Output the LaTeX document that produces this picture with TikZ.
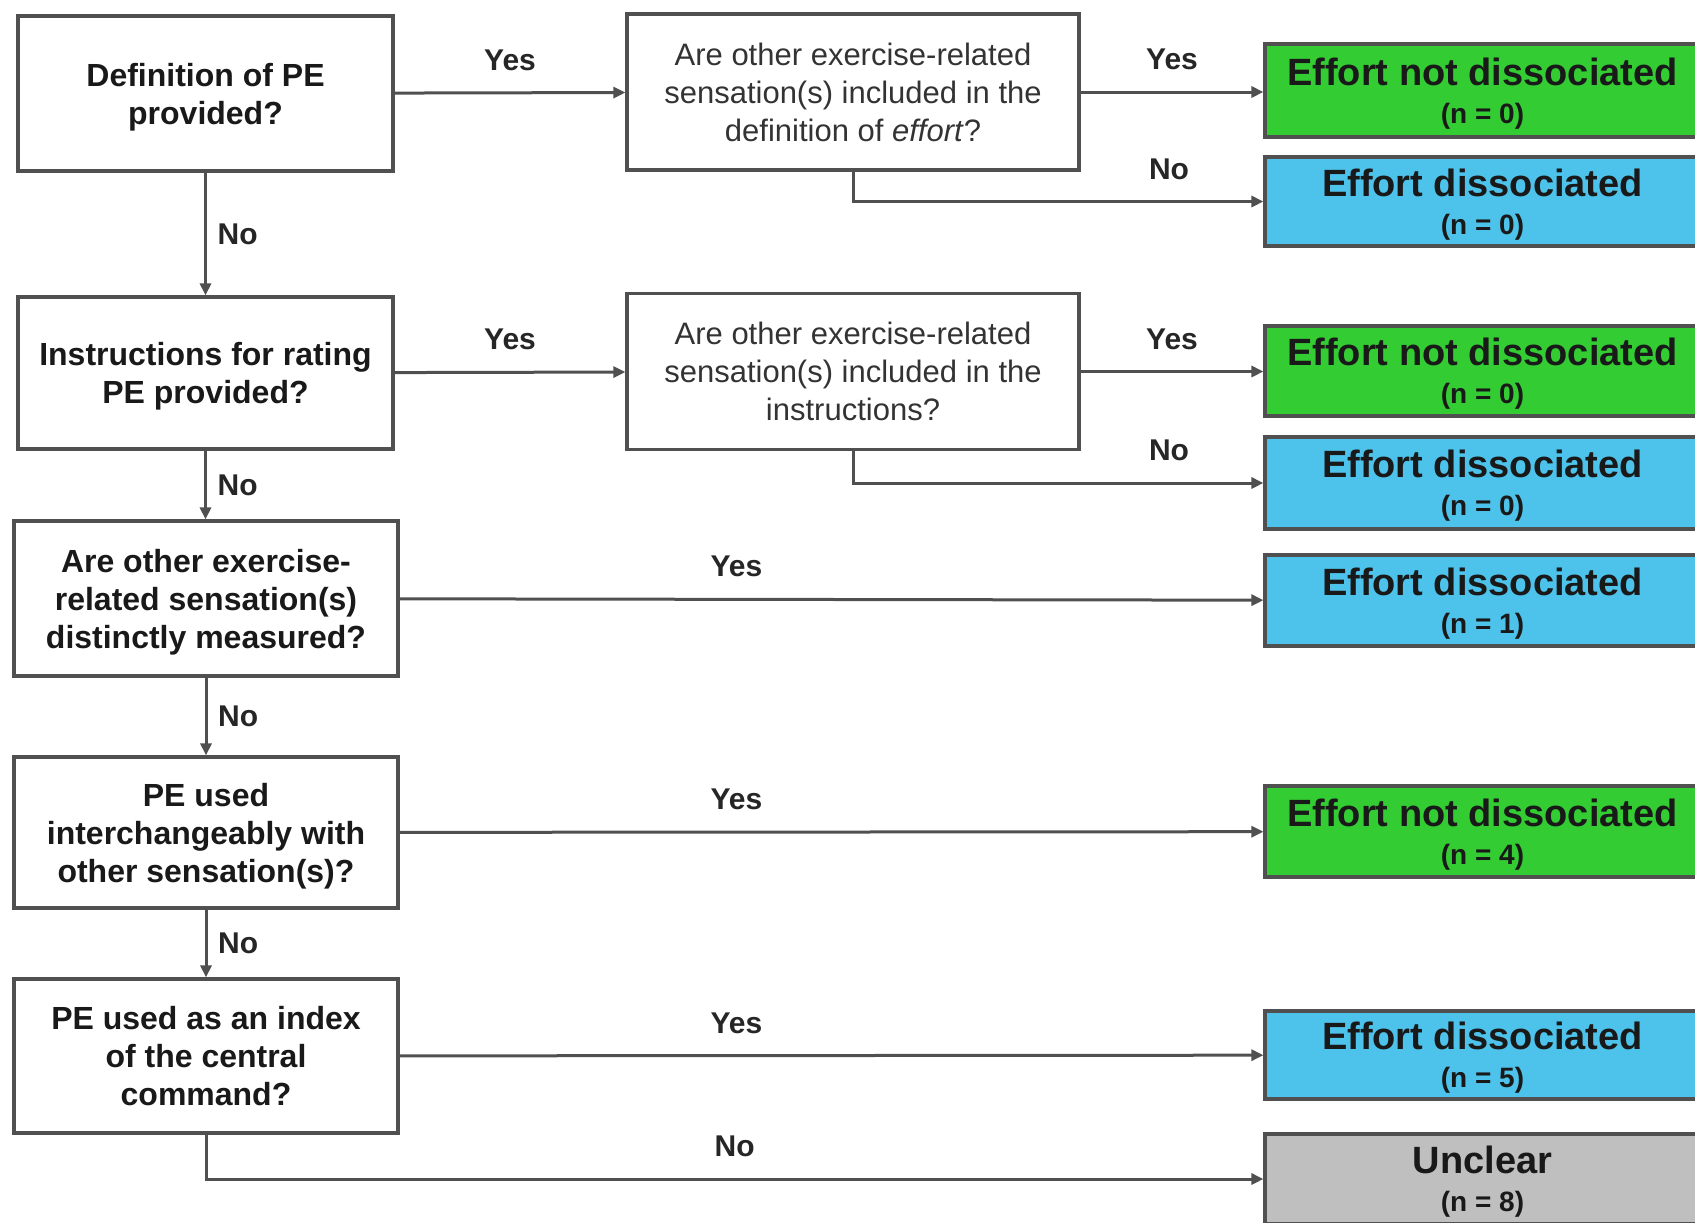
\documentclass[tikz,border=0pt]{standalone}
\usepackage{fontspec}
\setmainfont{Liberation Sans}
\usetikzlibrary{arrows.meta}
\definecolor{FlowGreen}{HTML}{33CC33}
\definecolor{FlowBlue}{HTML}{4DC3EB}
\definecolor{FlowGrey}{HTML}{BFBFBF}
\definecolor{FlowLine}{HTML}{505050}
\newcommand{\ncount}[1]{\\[-2pt]{\fontsize{14}{16}\selectfont(n = #1)}}

\begin{document}
\begin{tikzpicture}[x=0.5pt,y=-0.5pt,>={Triangle[length=6pt,width=5.5pt]},
  qbox/.style={draw=FlowLine,line width=1.6pt,align=center,text=black!90,
    font=\bfseries\fontsize{16}{19}\selectfont,inner sep=2pt,text depth=0pt},
  subbox/.style={draw=FlowLine,line width=1.6pt,align=center,text=black!80,
    font=\fontsize{15.5}{19}\selectfont,minimum width=226pt,minimum height=78pt},
  outbox/.style={draw=FlowLine,line width=1.6pt,align=center,text=black!90,
    minimum width=217.5pt,font=\bfseries\fontsize{19}{21}\selectfont,text depth=0pt},
  link/.style={->,FlowLine,line width=1.5pt},
  lab/.style={font=\bfseries\fontsize{15}{18}\selectfont,text=black!85}]
  \useasboundingbox (0,0) rectangle (1695,1222);
  % questions on the left
  \node[qbox,minimum width=187.5pt,minimum height=77.5pt] (b1) at (205.5,93.5)
    {Definition of PE\\provided?};
  \node[qbox,minimum width=187.5pt,minimum height=76pt] (b2) at (205.5,373)
    {Instructions for rating\\PE provided?};
  \node[qbox,minimum width=192pt,minimum height=77.5pt] (b3) at (206,598.5)
    {Are other exercise-\\related sensation(s)\\distinctly measured?};
  \node[qbox,minimum width=192pt,minimum height=75.5pt] (b4) at (206,832.5)
    {PE used\\interchangeably with\\other sensation(s)?};
  \node[qbox,minimum width=192pt,minimum height=77pt] (b5) at (206,1056)
    {PE used as an index\\of the central\\command?};
  % follow-up questions
  \node[subbox] (q1) at (853,92)
    {Are other exercise-related\\sensation(s) included in the\\definition of \textit{effort}?};
  \node[subbox] (q2) at (853,371.5)
    {Are other exercise-related\\sensation(s) included in the\\instructions?};
  % outcomes
  \node[outbox,fill=FlowGreen,minimum height=46.5pt] (g1) at (1482.5,90.5)
    {Effort not dissociated\ncount{0}};
  \node[outbox,fill=FlowBlue,minimum height=44.5pt] (d1) at (1482.5,201.5)
    {Effort dissociated\ncount{0}};
  \node[outbox,fill=FlowGreen,minimum height=45pt] (g2) at (1482.5,371)
    {Effort not dissociated\ncount{0}};
  \node[outbox,fill=FlowBlue,minimum height=46pt] (d2) at (1482.5,483)
    {Effort dissociated\ncount{0}};
  \node[outbox,fill=FlowBlue,minimum height=45.5pt] (d3) at (1482.5,600.5)
    {Effort dissociated\ncount{1}};
  \node[outbox,fill=FlowGreen,minimum height=45.5pt] (g4) at (1482.5,831.5)
    {Effort not dissociated\ncount{4}};
  \node[outbox,fill=FlowBlue,minimum height=44pt] (d5) at (1482.5,1055)
    {Effort dissociated\ncount{5}};
  \node[outbox,fill=FlowGrey,minimum height=45pt] (u) at (1482.5,1179)
    {Unclear\ncount{8}};
  % connectors
  \draw[link] (b1) -- node[lab,above=7pt]{Yes} (q1);
  \draw[link] (q1.east) -- node[lab,above=7pt]{Yes} (q1.east -| g1.west);
  \draw[link] (q1.south) |- node[lab,above=7pt,pos=0.885]{No} (d1.west);
  \draw[link] (b1) -- node[lab,right=2pt]{No} (b2);
  \draw[link] (b2) -- node[lab,above=7pt]{Yes} (q2);
  \draw[link] (q2.east) -- node[lab,above=7pt]{Yes} (q2.east -| g2.west);
  \draw[link] (q2.south) |- node[lab,above=7pt,pos=0.885]{No} (d2.west);
  \draw[link] (b2.south) -- node[lab,right=2pt]{No} (b2.south |- b3.north);
  \draw[link] (b3) -- node[lab,above=7pt,pos=0.39]{Yes} (d3);
  \draw[link] (b3) -- node[lab,right=2pt]{No} (b4);
  \draw[link] (b4) -- node[lab,above=7pt,pos=0.39]{Yes} (g4);
  \draw[link] (b4) -- node[lab,right=2pt]{No} (b5);
  \draw[link] (b5) -- node[lab,above=7pt,pos=0.39]{Yes} (d5);
  \draw[link] (b5.south) |- node[lab,above=7pt,pos=0.75]{No} (u.west);
\end{tikzpicture}
\end{document}
